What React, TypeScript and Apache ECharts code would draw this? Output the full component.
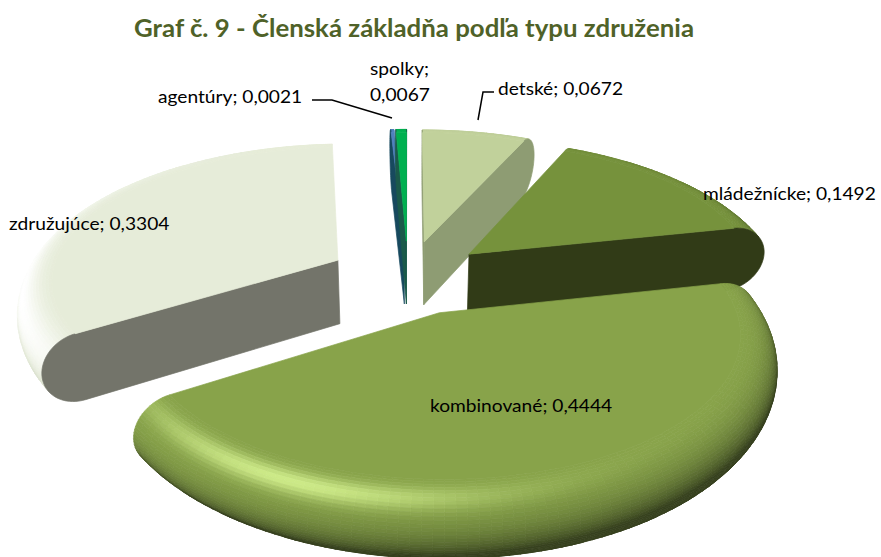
import React, { useEffect, useRef } from "react";
import * as echarts from "echarts";

const categories = ["detské", "mládežnícke", "kombinované", "združujúce", "agentúry", "spolky"];
const shares = [0.0672, 0.1492, 0.4444, 0.3304, 0.0021, 0.0067];
const titleText = "Graf č. 9 - Členská základňa podľa typu združenia";

// styling, per category index
const topColors = ["#C1D19B", "#76923C", "#88A34A", "#E6ECD9", "#4F81BD", "#00B050"];
const wallColors = ["#8E9C73", "#313B17", "#3B451F", "#73746A", "#17495E", "#1B5A4A"];
const glowColors = ["#E4F0C0", "#A8C860", "#CDEA88", "#FFFFFF", "#8DB4E2", "#40D080"];
const darkGain = [0.3, 0.55, 0.5, 0.05, 0.5, 0.5];
const darkCap = [0.4, 0.62, 0.6, 0.04, 0.6, 0.6];
const specPow = [14, 14, 24, 5, 10, 10];
const specAim: [number, number][] = [[205, 40], [205, 40], [205, 34], [262, 55], [205, 40], [205, 40]];
const drawOrder = [4, 5, 0, 3, 1, 2];
const labelAnchors: [number, number][] = [
  [498, 88], [703, 193], [430, 405], [9, 223], [158, 96], [370, 81],
];

// projection of the pie's plane
const CX = 408, CY = 277, SX = 315, SY = 146, K = 0.15, KZ = 0.03, ZH = 66;
const EXPLODE = 0.255, RADIUS = 1.035, BEVEL = 0.12;

const project = (x: number, y: number, z: number): number[] => {
  const w = 1 + K * y + KZ * (1 - z);
  return [CX + (SX * x) / w, CY - (SY * y) / w + (ZH * (1 - z)) / w];
};
const hex = (c: string) => [1, 3, 5].map((i) => parseInt(c.slice(i, i + 2), 16));
const mix = (c: number[], t: number[], f: number) => c.map((v, i) => v + (t[i] - v) * f);
const rgb = (c: number[]) => `rgb(${c.map(Math.round).join(",")})`;
const area = (p: number[][]) => {
  let a = 0;
  p.forEach((q, i) => {
    const n = p[(i + 1) % p.length];
    a += q[0] * n[1] - n[0] * q[1];
  });
  return a / 2;
};
const unit = (thetaDeg: number, phiDeg: number) => {
  const t = (thetaDeg * Math.PI) / 180, f = (phiDeg * Math.PI) / 180;
  return [Math.sin(f) * Math.sin(t), Math.sin(f) * Math.cos(t), Math.cos(f)];
};
const dot = (a: number[], b: number[]) => a[0] * b[0] + a[1] * b[1] + a[2] * b[2];
const SHADE = unit(250, 25);

const starts: number[] = [];
shares.reduce((acc, v, i) => ((starts[i] = acc), acc + v), 0);

function sliceChildren(idx: number) {
  const a0 = starts[idx] * 2 * Math.PI;
  const a1 = (starts[idx] + shares[idx]) * 2 * Math.PI;
  const mid = (a0 + a1) / 2;
  const ox = Math.sin(mid) * EXPLODE, oy = Math.cos(mid) * EXPLODE;
  const pt = (t: number, f: number) => {
    const r = RADIUS * (1 - BEVEL + BEVEL * Math.sin(f));
    const z = 0.5 + 0.5 * Math.cos(f);
    return project(ox + r * Math.sin(t), oy + r * Math.cos(t), z);
  };
  const base = hex(topColors[idx]);
  const glow = hex(glowColors[idx]);
  const aim = unit(specAim[idx][0], specAim[idx][1]);
  const s0 = Math.pow(aim[2], specPow[idx]);
  const children: any[] = [];
  const poly = (points: number[][], fill: string) =>
    children.push({
      type: "polygon",
      shape: { points },
      style: { fill, stroke: fill, lineWidth: 0.7 },
    });
  const nT = Math.max(2, Math.ceil((a1 - a0) / 0.03));
  const nF = 36;
  for (let i = 0; i < nT; i++) {
    const t0 = a0 + ((a1 - a0) * i) / nT, t1 = a0 + ((a1 - a0) * (i + 1)) / nT;
    for (let j = 0; j < nF; j++) {
      const f0 = (Math.PI * j) / nF, f1 = (Math.PI * (j + 1)) / nF;
      const q = [pt(t0, f0), pt(t1, f0), pt(t1, f1), pt(t0, f1)];
      if (area(q) >= 0) continue;
      const tm = (t0 + t1) / 2, fm = (f0 + f1) / 2;
      const n = [Math.sin(fm) * Math.sin(tm), Math.sin(fm) * Math.cos(tm), Math.cos(fm)];
      const v = dot(n, SHADE) - SHADE[2];
      const ramp = Math.min(1, (Math.max(0, -v) * darkGain[idx]) / darkCap[idx]);
      const dark = darkCap[idx] * Math.pow(ramp, 1.5);
      const spec = Math.max(0, (Math.pow(Math.max(0, dot(n, aim)), specPow[idx]) - s0) / (1 - s0));
      poly(q, rgb(mix(mix(base, [0, 0, 0], dark), glow, spec)));
    }
  }
  // the two cut faces
  const apexTop = project(ox, oy, 1), apexBot = project(ox, oy, 0);
  [a0, a1].forEach((t, side) => {
    const pts = [apexTop];
    for (let j = 0; j <= nF; j++) pts.push(pt(t, (Math.PI * j) / nF));
    pts.push(apexBot);
    const s = area(pts);
    if ((side === 1 && s > 0) || (side === 0 && s < 0)) poly(pts, wallColors[idx]);
  });
  // flat top
  const top = [apexTop];
  for (let i = 0; i <= nT; i++) top.push(pt(a0 + ((a1 - a0) * i) / nT, 0));
  poly(top, topColors[idx]);
  return children;
}

const valueText = (v: number) => v.toFixed(4).replace(".", ",");
const labelText = (i: number) =>
  categories[i] === "spolky"
    ? `${categories[i]};\n${valueText(shares[i])}`
    : `${categories[i]}; ${valueText(shares[i])}`;

export default function App() {
  const ref = useRef<HTMLDivElement>(null);
  useEffect(() => {
    document.body.style.margin = "0";
    document.body.style.background = "#fff";
    const chart = echarts.init(ref.current!, undefined, { renderer: "svg" });
    const font = "Lato, Carlito, sans-serif";
    chart.setOption({
      animation: false,
      backgroundColor: "#ffffff",
      series: [
        {
          type: "custom",
          coordinateSystem: "none",
          silent: true,
          data: drawOrder.map((i) => ({ name: categories[i], value: shares[i] })),
          renderItem: (params: any) => ({
            type: "group",
            children: sliceChildren(drawOrder[params.dataIndex]),
          }),
        },
      ],
      graphic: [
        {
          type: "text",
          z: 10,
          x: 134,
          y: 27,
          scaleX: 1.085,
          style: {
            text: titleText,
            fontFamily: font,
            fontSize: 23.8,
            fontWeight: "bold",
            fill: "#4F6228",
            textVerticalAlign: "middle",
          },
        },
        ...categories.map((_, i) => ({
          type: "text",
          z: 10,
          x: labelAnchors[i][0],
          y: labelAnchors[i][1],
          scaleX: 1.065,
          style: {
            text: labelText(i),
            fontFamily: font,
            fontSize: 18,
            lineHeight: 26,
            fill: "#000000",
            textVerticalAlign: "middle",
          },
        })),
        { type: "polyline", z: 10, shape: { points: [[312, 100], [332, 100], [392, 118]] }, style: { stroke: "#000", lineWidth: 1.5, fill: "none" } },
        { type: "polyline", z: 10, shape: { points: [[494, 92], [483, 92], [478, 120]] }, style: { stroke: "#000", lineWidth: 1.5, fill: "none" } },
      ],
    });
    return () => chart.dispose();
  }, []);
  return <div ref={ref} style={{ width: 881, height: 557 }} />;
}
